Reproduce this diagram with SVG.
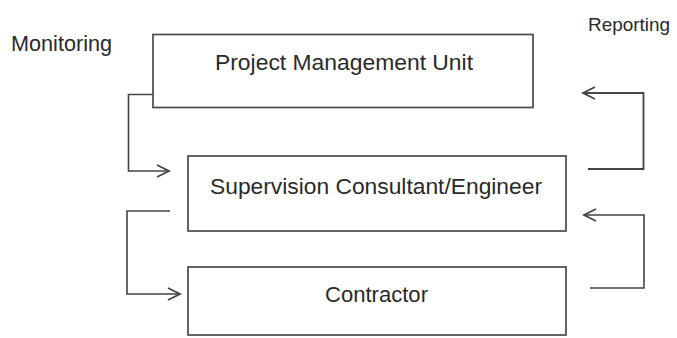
<svg xmlns="http://www.w3.org/2000/svg" width="677" height="338" viewBox="0 0 677 338">
<style>
.box{fill:#fff;stroke:#4a4a4a;stroke-width:1.7}
.lbl{font-family:"Liberation Sans",Arial,sans-serif;font-size:22px;fill:#2a2a2a}
.con{fill:none;stroke:#444;stroke-width:1.6}
</style>
<defs>
<marker id="arr" markerUnits="userSpaceOnUse" markerWidth="16" markerHeight="16" refX="13" refY="7" orient="auto">
<path d="M1,1 L13,7 L1,13" fill="none" stroke="#444" stroke-width="1.8"/>
</marker>
</defs>
<rect width="677" height="338" fill="#fff"/>
<g id="monitoring-label"><text class="lbl" x="11" y="51" textLength="101" lengthAdjust="spacingAndGlyphs">Monitoring</text></g>
<g id="reporting-label"><text class="lbl" x="588" y="31" style="font-size:19px" textLength="82" lengthAdjust="spacingAndGlyphs">Reporting</text></g>
<g id="pmu"><rect class="box" x="153" y="34.5" width="380" height="73"/><text class="lbl" x="344" y="70" text-anchor="middle" textLength="258" lengthAdjust="spacingAndGlyphs">Project Management Unit</text></g>
<g id="consultant"><rect class="box" x="188" y="156" width="378" height="75"/><text class="lbl" x="376" y="194" text-anchor="middle" textLength="332" lengthAdjust="spacingAndGlyphs">Supervision Consultant/Engineer</text></g>
<g id="contractor"><rect class="box" x="188" y="267" width="378" height="68"/><text class="lbl" x="376.5" y="302" text-anchor="middle" textLength="103" lengthAdjust="spacingAndGlyphs">Contractor</text></g>
<g id="connectors">
<path class="con" d="M153,94.5 H128.5 V171 H169" marker-end="url(#arr)"/>
<path class="con" d="M170,211 H127 V294 H180" marker-end="url(#arr)"/>
<path class="con" d="M588,169 H643.5 V93 H583" marker-end="url(#arr)" style="stroke-width:1.8"/>
<path class="con" d="M590,288 H644 V215 H584" marker-end="url(#arr)"/>
</g>
</svg>
